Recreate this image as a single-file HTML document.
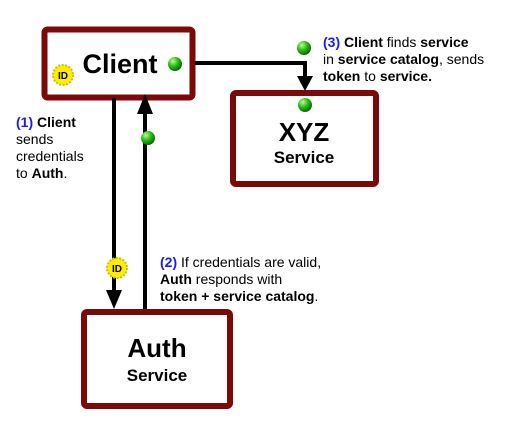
<!DOCTYPE html>
<html><head><style>
body{margin:0;width:530px;height:421px;background:#fff;overflow:hidden;position:relative;font-family:"Liberation Sans",Arial,sans-serif}
svg{position:absolute;left:0;top:0}
.t{position:absolute;font-size:14px;line-height:17px;color:#000}
.b{color:#1a1aff;font-weight:bold}
</style></head><body>
<svg width="530" height="421">
<defs>
<radialGradient id="g" cx="35%" cy="30%" r="70%"><stop offset="0" stop-color="#b8ff9a"/><stop offset="0.5" stop-color="#2fc01a"/><stop offset="1" stop-color="#0a6a00"/></radialGradient>
</defs>
<rect x="44.5" y="29.5" width="148" height="68" rx="3" fill="#fff" stroke="#7a0a0a" stroke-width="6"/>
<rect x="233" y="93" width="143" height="91" rx="3" fill="#fff" stroke="#7a0a0a" stroke-width="6"/>
<rect x="84" y="312" width="146" height="94" rx="3" fill="#fff" stroke="#7a0a0a" stroke-width="6"/>
<g stroke="#000" stroke-width="4" fill="none">
<line x1="114" y1="98" x2="114" y2="292"/>
<line x1="145" y1="309" x2="145" y2="112"/>
<polyline points="195,63 305,63 305,78"/>
</g>
<polygon points="106,290 122,290 114,309" fill="#000"/>
<polygon points="137,114 153,114 145,94" fill="#000"/>
<polygon points="297,76 313,76 305,91" fill="#000"/>
<circle cx="175" cy="64" r="7" fill="url(#g)"/>
<circle cx="304" cy="48" r="7" fill="url(#g)"/>
<circle cx="305" cy="105" r="7" fill="url(#g)"/>
<circle cx="148" cy="138" r="7" fill="url(#g)"/>
<g font-family="Liberation Sans,Arial" font-weight="bold" font-size="10" text-anchor="middle">
<circle cx="63" cy="75" r="10" fill="#ffee00" stroke="#d8b800" stroke-width="2" stroke-dasharray="2 1.5"/>
<text x="63" y="79">ID</text>
<circle cx="117" cy="268" r="10" fill="#ffee00" stroke="#d8b800" stroke-width="2" stroke-dasharray="2 1.5"/>
<text x="117" y="272">ID</text>
</g>
<g font-family="Liberation Sans,Arial" font-weight="bold" text-anchor="middle">
<text x="120" y="73" font-size="27">Client</text>
<text x="304" y="141" font-size="26">XYZ</text>
<text x="304" y="163" font-size="17">Service</text>
<text x="157" y="357" font-size="26">Auth</text>
<text x="157" y="381" font-size="17">Service</text>
</g>
</svg>
<div class="t" style="left:16px;top:114px"><span class="b">(1)</span> <b>Client</b><br>sends<br>credentials<br>to <b>Auth</b>.</div>
<div class="t" style="left:160px;top:254px"><span class="b">(2)</span> If credentials are valid,<br><b>Auth</b> responds with<br><b>token + service catalog</b>.</div>
<div class="t" style="left:323px;top:34px"><span class="b">(3)</span> <b>Client</b> finds <b>service</b><br>in <b>service catalog</b>, sends<br><b>token</b> to <b>service.</b></div>
</body></html>
